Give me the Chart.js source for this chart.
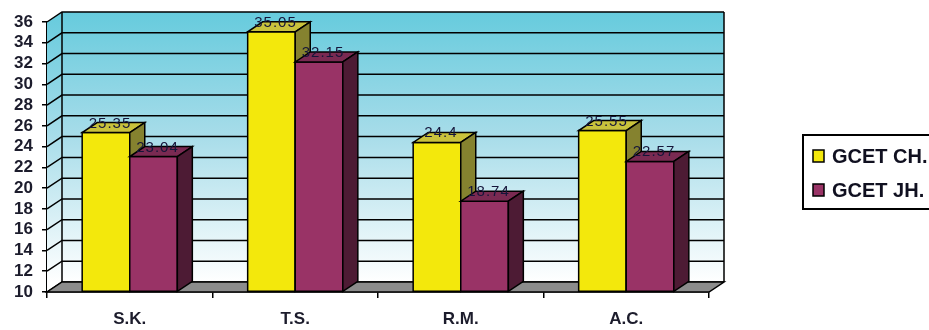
<!DOCTYPE html>
<html>
<head>
<meta charset="utf-8">
<script src="https://cdn.jsdelivr.net/npm/chart.js@4.4.1/dist/chart.umd.min.js"></script>
<style>
  html, body { margin: 0; padding: 0; background: #ffffff; overflow: hidden; }
  #wrap { width: 929px; height: 330px; }
</style>
</head>
<body>
<div id="wrap"><canvas id="chart" width="929" height="330"></canvas></div>
<script>
// Scores per group for the two GCET campuses
const categories = ['S.K.', 'T.S.', 'R.M.', 'A.C.'];
const seriesNames = ['GCET CH.', 'GCET JH.'];
const valuesCH = [25.35, 35.05, 24.4, 25.55];
const valuesJH = [23.04, 32.15, 18.74, 22.57];
const valueLabelsCH = ['25.35', '35.05', '24.4', '25.55'];
const valueLabelsJH = ['23.04', '32.15', '18.74', '22.57'];
const yTicks = [10, 12, 14, 16, 18, 20, 22, 24, 26, 28, 30, 32, 34, 36];

// depth of the pseudo-3D box
const DX = 15, DY = -10;

const faceColors = [
  { front: '#f3e80c', top: '#c9c23c', side: '#85822f' },
  { front: '#993366', top: '#7a2a52', side: '#4d1b34' }
];

function poly(ctx, pts, fill) {
  ctx.beginPath();
  ctx.moveTo(pts[0][0], pts[0][1]);
  for (let i = 1; i < pts.length; i++) ctx.lineTo(pts[i][0], pts[i][1]);
  ctx.closePath();
  if (fill) { ctx.fillStyle = fill; ctx.fill(); }
  ctx.stroke();
}

const box3d = {
  id: 'box3d',
  beforeDatasetsDraw(chart) {
    const { ctx, chartArea: a, scales } = chart;
    const y = scales.y;
    ctx.save();
    ctx.lineWidth = 1.5;
    ctx.strokeStyle = '#000';
    // back + left wall gradient
    const g = ctx.createLinearGradient(0, a.top + DY, 0, a.bottom + DY);
    g.addColorStop(0, '#66cbdd');
    g.addColorStop(0.45, '#a6dce9');
    g.addColorStop(1, '#ffffff');
    ctx.fillStyle = g;
    ctx.beginPath();
    ctx.moveTo(a.left, a.top);
    ctx.lineTo(a.left + DX, a.top + DY);
    ctx.lineTo(a.right + DX, a.top + DY);
    ctx.lineTo(a.right + DX, a.bottom + DY);
    ctx.lineTo(a.left + DX, a.bottom + DY);
    ctx.lineTo(a.left, a.bottom);
    ctx.closePath();
    ctx.fill();
    // grid lines on the back wall and the left wall
    yTicks.forEach(v => {
      const py = y.getPixelForValue(v);
      ctx.beginPath();
      ctx.moveTo(a.left, py);
      ctx.lineTo(a.left + DX, py + DY);
      ctx.lineTo(a.right + DX, py + DY);
      ctx.stroke();
    });
    // wall edges
    ctx.beginPath();
    ctx.moveTo(a.left + DX, a.top + DY);
    ctx.lineTo(a.left + DX, a.bottom + DY);
    ctx.moveTo(a.right + DX, a.top + DY);
    ctx.lineTo(a.right + DX, a.bottom + DY);
    ctx.stroke();
    // floor
    poly(ctx, [[a.left, a.bottom], [a.right, a.bottom], [a.right + DX, a.bottom + DY], [a.left + DX, a.bottom + DY]], '#8c8c8c');
    ctx.restore();
  },
  afterDatasetsDraw(chart) {
    const { ctx } = chart;
    const m0 = chart.getDatasetMeta(0).data;
    const m1 = chart.getDatasetMeta(1).data;
    ctx.save();
    ctx.lineWidth = 1.5;
    ctx.strokeStyle = '#000';
    ctx.lineJoin = 'miter';
    const faces = (bar, c) => {
      const p = bar.getProps(['x', 'y', 'base', 'width'], true);
      const x0 = p.x - p.width / 2, x1 = p.x + p.width / 2;
      poly(ctx, [[x0, p.y], [x1, p.y], [x1, p.base], [x0, p.base]], c.front);
      poly(ctx, [[x0, p.y], [x1, p.y], [x1 + DX, p.y + DY], [x0 + DX, p.y + DY]], c.top);
      poly(ctx, [[x1, p.y], [x1 + DX, p.y + DY], [x1 + DX, p.base + DY], [x1, p.base]], c.side);
    };
    for (let i = 0; i < categories.length; i++) {
      faces(m0[i], faceColors[0]);
      faces(m1[i], faceColors[1]);
    }
    // value labels over each bar
    ctx.font = '15px "Liberation Sans", Arial, sans-serif';
    ctx.fillStyle = '#15153a';
    ctx.textAlign = 'center';
    ctx.textBaseline = 'alphabetic';
    if ('letterSpacing' in ctx) ctx.letterSpacing = '1px';
    const lbls = [valueLabelsCH, valueLabelsJH];
    [m0, m1].forEach((meta, d) => {
      meta.forEach((bar, i) => {
        const p = bar.getProps(['x', 'y'], true);
        ctx.fillText(lbls[d][i], p.x + 4, p.y - 5);
      });
    });
    ctx.restore();
  },
  afterDraw(chart) {
    // legend panel on the right
    const { ctx, chartArea: a } = chart;
    const lx = a.right + 94, ly = 135, lw = 140, lh = 74;
    ctx.save();
    ctx.lineWidth = 2;
    ctx.strokeStyle = '#000';
    ctx.fillStyle = '#fff';
    ctx.fillRect(lx, ly, lw, lh);
    ctx.strokeRect(lx, ly, lw, lh);
    ctx.font = 'bold 20px "Liberation Sans", Arial, sans-serif';
    ctx.textBaseline = 'middle';
    ctx.textAlign = 'left';
    ctx.lineWidth = 1.5;
    seriesNames.forEach((name, i) => {
      const cy = ly + 21 + i * 34;
      ctx.fillStyle = faceColors[i].front;
      ctx.fillRect(lx + 10, cy - 6, 11, 12);
      ctx.strokeRect(lx + 10, cy - 6, 11, 12);
      ctx.fillStyle = '#101020';
      ctx.fillText(name, lx + 29, cy + 1);
    });
    ctx.restore();
  }
};

new Chart(document.getElementById('chart'), {
  type: 'bar',
  data: {
    labels: categories,
    datasets: [
      { label: seriesNames[0], data: valuesCH, backgroundColor: faceColors[0].front, borderColor: '#000', borderWidth: 1.5, borderSkipped: false },
      { label: seriesNames[1], data: valuesJH, backgroundColor: faceColors[1].front, borderColor: '#000', borderWidth: 1.5, borderSkipped: false }
    ]
  },
  options: {
    responsive: false,
    animation: false,
    events: [],
    layout: { padding: { top: 22, right: 220, left: 0, bottom: 0 } },
    datasets: { bar: { categoryPercentage: 0.575, barPercentage: 1, base: 10 } },
    plugins: { legend: { display: false }, tooltip: { enabled: false } },
    scales: {
      x: {
        grid: { display: true, drawOnChartArea: false, drawTicks: true, tickLength: 6, color: '#000', lineWidth: 1.5 },
        border: { display: true, color: '#000', width: 1.5 },
        ticks: { color: '#1c1c2c', padding: 11, font: { family: '"Liberation Sans", Arial, sans-serif', size: 17, weight: 'bold' } },
        afterFit(s) { s.height = 38; }
      },
      y: {
        min: 10, max: 36,
        afterBuildTicks(s) { s.ticks = yTicks.map(v => ({ value: v })); },
        grid: { display: true, drawOnChartArea: false, drawTicks: true, tickLength: 5, color: '#000', lineWidth: 1.5 },
        border: { display: true, color: '#000', width: 1.5 },
        ticks: { autoSkip: false, color: '#1c1c2c', padding: 9, font: { family: '"Liberation Sans", Arial, sans-serif', size: 17, weight: 'bold' } },
        afterFit(s) { s.width = 47; }
      }
    }
  },
  plugins: [box3d]
});
</script>
</body>
</html>
